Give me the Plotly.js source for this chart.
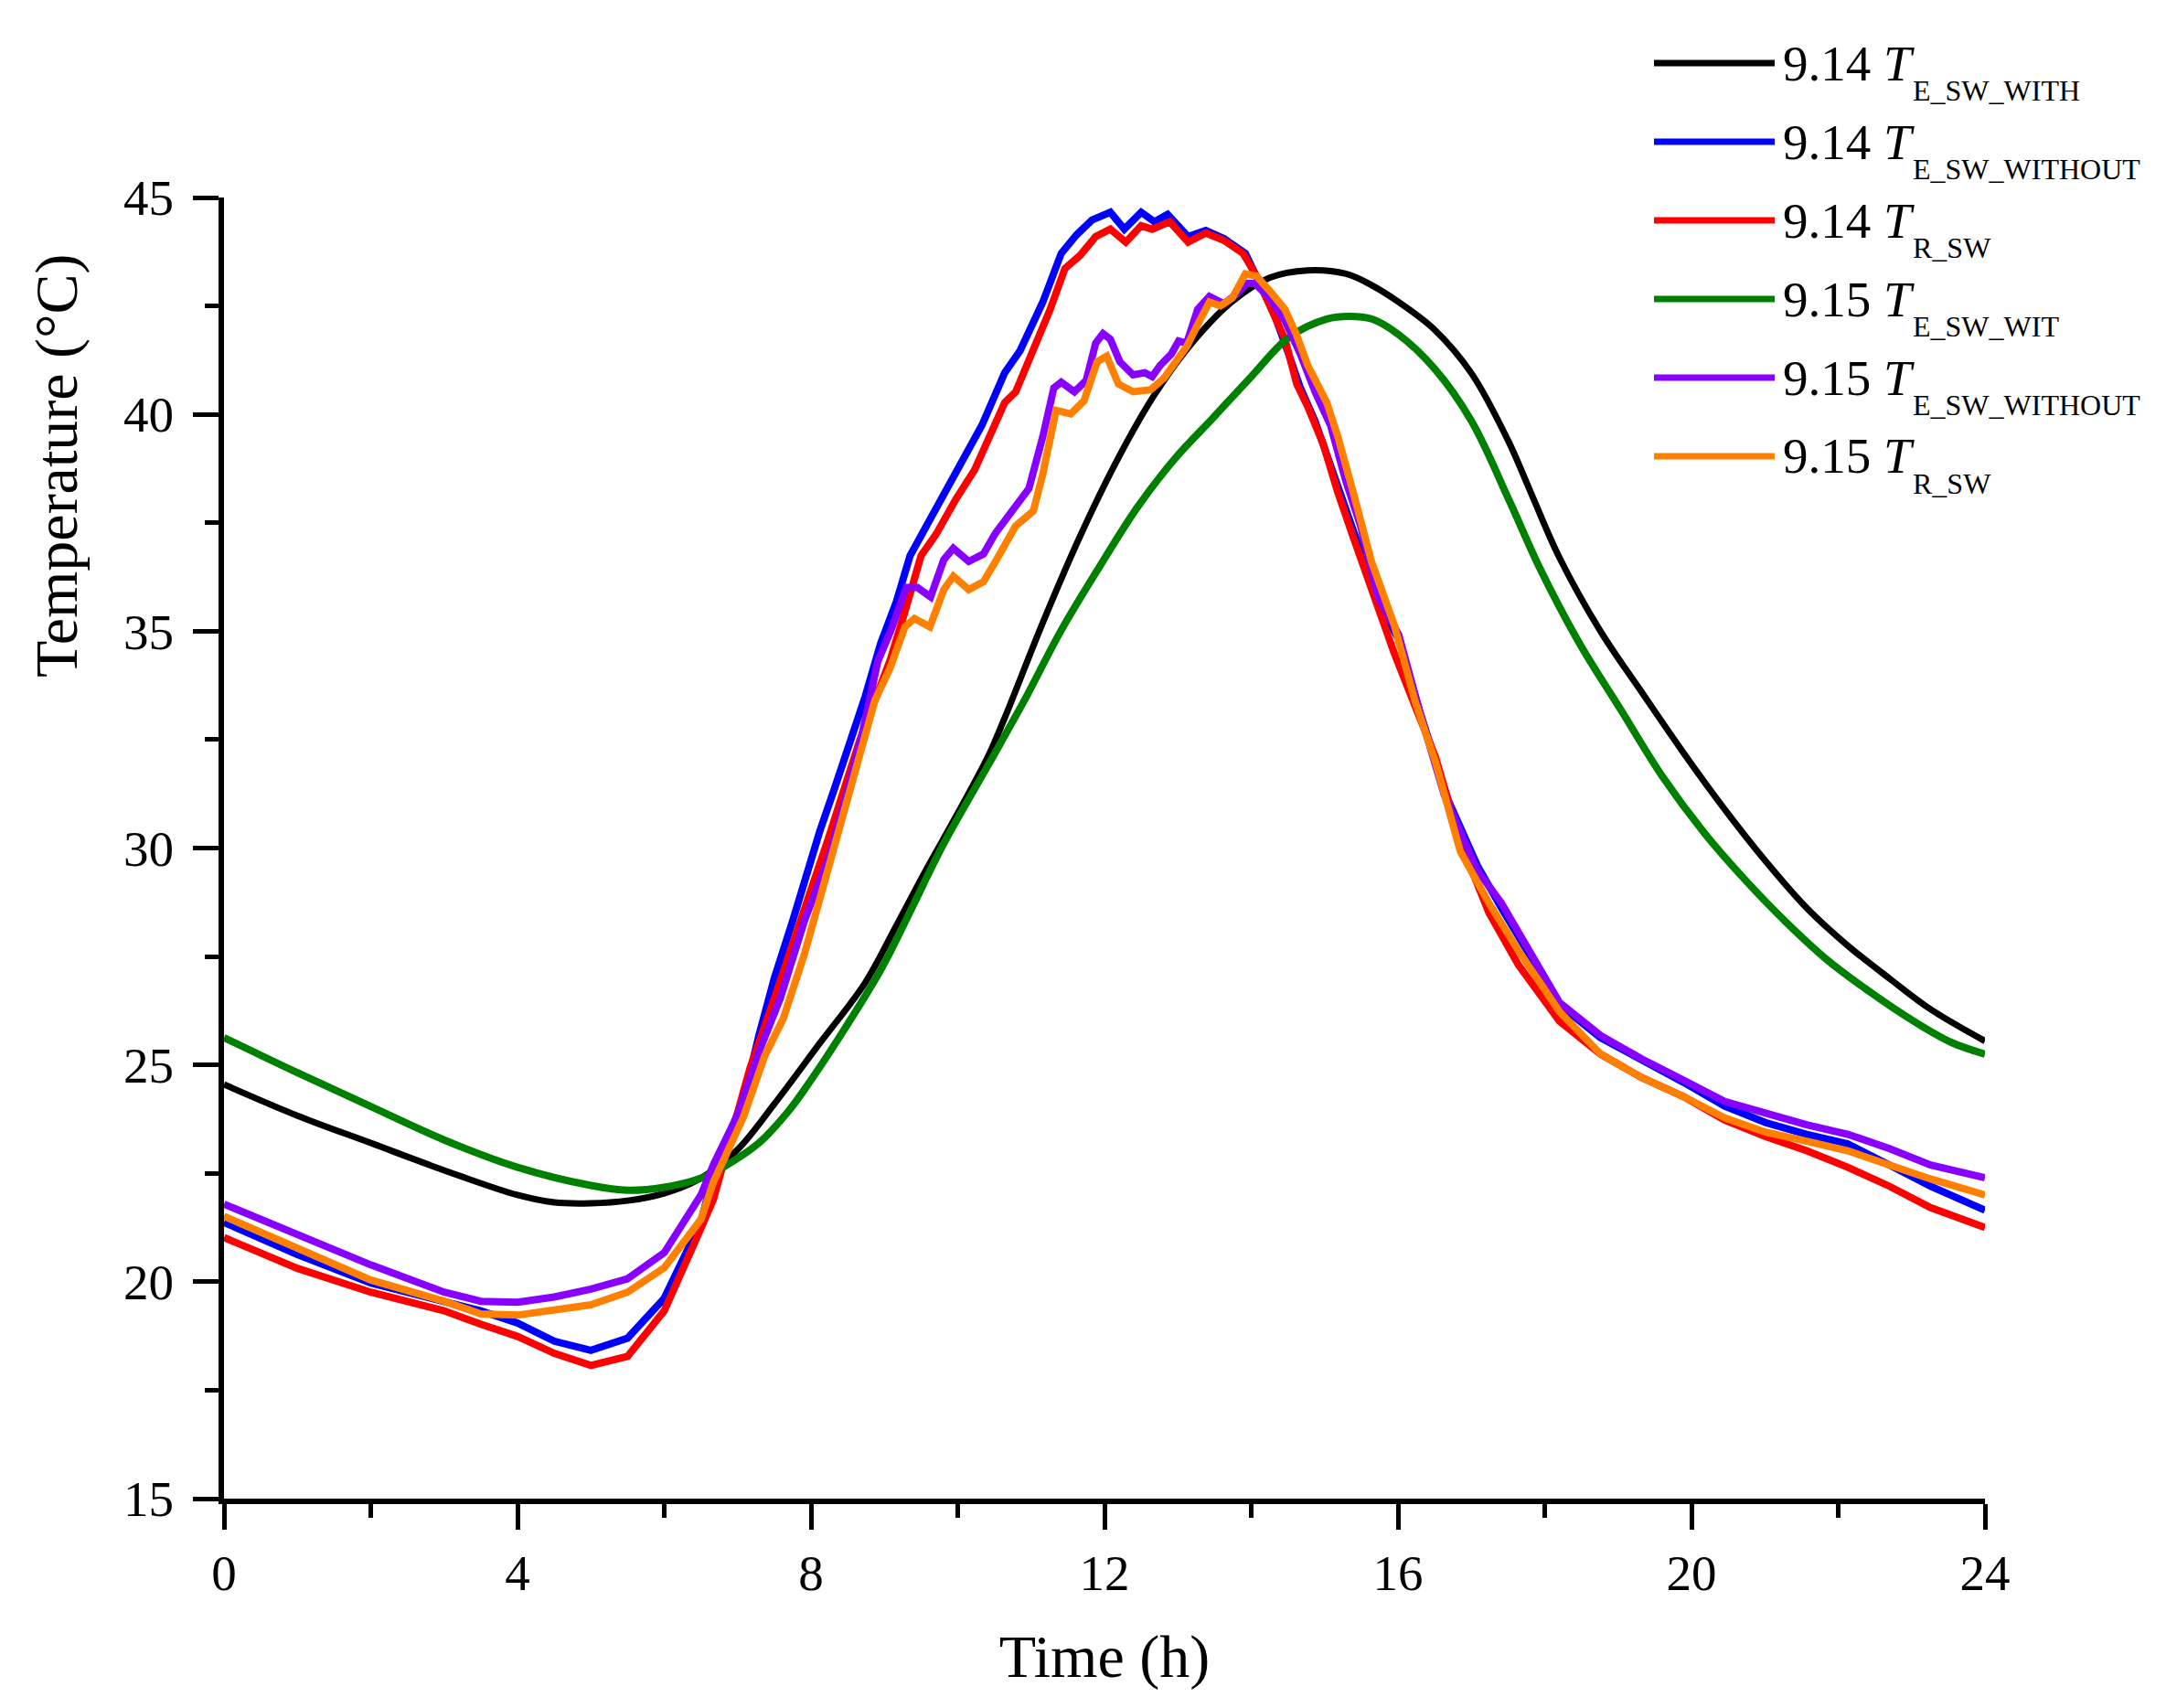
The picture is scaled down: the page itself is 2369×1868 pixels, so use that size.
<!DOCTYPE html>
<html>
<head>
<meta charset="utf-8">
<script src="https://cdn.plot.ly/plotly-3.0.1.min.js"></script>
<style>
  html, body { margin: 0; padding: 0; background: #fff; }
  #chart { width: 2369px; height: 1868px; }
</style>
</head>
<body>
<div id="chart"></div>
<script>
// Sol-air / surface temperature of the south wall over two days (9.14, 9.15).
// Hours and °C; noisy series keep their wiggles.

// 9.14 T_E_SW_WITH
const hBlack = [0, 1, 2, 3, 4, 4.5, 5, 5.5, 6, 6.5, 7, 7.5, 8.12, 8.74, 9.16, 9.57, 10.0, 10.41, 10.64, 11.16, 11.67, 12.19, 12.7, 13.22, 13.74, 14.25, 14.77, 15.29, 15.64, 16, 16.5, 17, 17.5, 17.81, 18.2, 18.76, 19.32, 19.89, 20.45, 21.01, 21.57, 22.13, 22.7, 23.26, 24];
const tBlack = [24.55, 23.83, 23.2, 22.57, 22.0, 21.83, 21.81, 21.87, 22.04, 22.39, 23.05, 24.1, 25.5, 26.9, 28.2, 29.5, 30.8, 32.1, 33.0, 35.2, 37.2, 39.0, 40.5, 41.7, 42.6, 43.15, 43.32, 43.24, 42.98, 42.6, 41.95, 40.95, 39.4, 38.2, 36.7, 35.0, 33.6, 32.2, 30.9, 29.7, 28.62, 27.75, 26.99, 26.28, 25.55];

// 9.14 T_E_SW_WITHOUT
const hBlue = [0, 1, 2, 3, 3.5, 4, 4.5, 5, 5.5, 6, 6.5, 6.67, 7.08, 7.29, 7.5, 7.75, 7.91, 8.12, 8.33, 8.54, 8.74, 8.95, 9.16, 9.35, 9.71, 10.12, 10.33, 10.64, 10.85, 11.16, 11.41, 11.62, 11.83, 12.08, 12.27, 12.5, 12.68, 12.86, 13.14, 13.38, 13.63, 13.92, 14.1, 14.31, 14.51, 14.67, 14.87, 15.08, 15.29, 15.49, 15.73, 16.01, 16.29, 16.68, 17.08, 17.41, 17.75, 18.2, 18.76, 19.32, 19.89, 20.45, 21.01, 21.57, 22.13, 22.7, 23.26, 24];
const tBlue = [21.37, 20.63, 19.97, 19.55, 19.33, 19.05, 18.63, 18.42, 18.7, 19.62, 21.37, 22.5, 24.2, 25.68, 27.0, 28.32, 29.26, 30.39, 31.42, 32.46, 33.5, 34.72, 35.66, 36.74, 37.86, 39.06, 39.75, 40.96, 41.47, 42.59, 43.71, 44.14, 44.48, 44.66, 44.27, 44.66, 44.44, 44.61, 44.1, 44.24, 44.05, 43.71, 43.1, 42.33, 41.39, 40.61, 39.84, 38.8, 37.86, 36.82, 35.68, 34.81, 33.18, 31.12, 29.6, 28.62, 27.64, 26.39, 25.63, 25.14, 24.6, 24.05, 23.67, 23.4, 23.18, 22.69, 22.2, 21.65];

// 9.14 T_R_SW
const hRed = [0, 1, 2, 3, 3.5, 4, 4.5, 5, 5.5, 6, 6.5, 6.67, 6.92, 7.17, 7.5, 7.75, 8.0, 8.25, 8.41, 8.66, 8.87, 9.08, 9.28, 9.5, 9.71, 9.97, 10.23, 10.43, 10.64, 10.79, 11.05, 11.26, 11.46, 11.67, 11.88, 12.08, 12.29, 12.5, 12.65, 12.89, 13.14, 13.38, 13.63, 13.89, 14.07, 14.25, 14.46, 14.62, 14.77, 14.98, 15.18, 15.39, 15.67, 15.95, 16.23, 16.51, 16.85, 17.24, 17.64, 18.2, 18.76, 19.32, 19.89, 20.45, 21.01, 21.57, 22.13, 22.7, 23.26, 24];
const tRed = [21.02, 20.31, 19.76, 19.33, 19.02, 18.74, 18.35, 18.07, 18.28, 19.33, 21.23, 21.9, 23.42, 24.93, 26.53, 27.75, 29.07, 30.29, 31.14, 32.46, 33.4, 34.34, 35.45, 36.74, 37.25, 38.03, 38.72, 39.49, 40.27, 40.52, 41.56, 42.42, 43.36, 43.67, 44.1, 44.27, 43.97, 44.35, 44.27, 44.44, 43.97, 44.18, 44.01, 43.71, 43.19, 42.5, 41.73, 40.7, 40.18, 39.32, 38.2, 37.17, 35.79, 34.49, 33.29, 32.1, 30.14, 28.51, 27.31, 26.01, 25.25, 24.71, 24.27, 23.73, 23.35, 23.02, 22.64, 22.2, 21.71, 21.25];

// 9.15 T_E_SW_WIT
const hGreen = [0, 1, 2, 3, 4, 5, 5.5, 6, 6.5, 6.83, 7.29, 7.7, 8, 8.33, 8.95, 9.37, 9.78, 10.41, 10.9, 11.41, 11.93, 12.45, 12.96, 13.48, 14.0, 14.51, 15.03, 15.34, 15.64, 16, 16.5, 17, 17.52, 17.92, 18.48, 19.04, 19.6, 20.17, 20.73, 21.29, 21.85, 22.41, 22.98, 23.54, 24];
const tGreen = [25.63, 24.82, 24.04, 23.27, 22.64, 22.22, 22.11, 22.18, 22.39, 22.67, 23.2, 23.95, 24.65, 25.49, 27.19, 28.6, 30.01, 31.9, 33.38, 35.02, 36.48, 37.86, 38.98, 39.92, 40.87, 41.77, 42.2, 42.26, 42.2, 41.85, 41.05, 39.85, 38.0, 36.5, 34.7, 33.18, 31.66, 30.36, 29.27, 28.29, 27.42, 26.71, 26.06, 25.52, 25.25];

// 9.15 T_E_SW_WITHOUT
const hPurple = [0, 1, 2, 3, 3.5, 4, 4.5, 5, 5.5, 6, 6.5, 6.67, 7.0, 7.29, 7.58, 7.91, 8.25, 8.5, 8.7, 8.91, 9.09, 9.3, 9.45, 9.63, 9.81, 9.94, 10.15, 10.35, 10.51, 10.74, 10.97, 11.16, 11.31, 11.41, 11.59, 11.75, 11.88, 11.98, 12.08, 12.21, 12.39, 12.55, 12.65, 12.76, 12.91, 13.01, 13.12, 13.27, 13.43, 13.63, 13.79, 13.94, 14.05, 14.25, 14.46, 14.67, 14.87, 15.08, 15.29, 15.49, 15.73, 16.01, 16.29, 16.63, 17.08, 17.41, 17.75, 18.2, 18.76, 19.32, 19.89, 20.45, 21.01, 21.57, 22.13, 22.7, 23.26, 24];
const tPurple = [21.79, 21.09, 20.39, 19.76, 19.55, 19.53, 19.65, 19.83, 20.07, 20.67, 22.0, 22.7, 23.85, 25.3, 26.53, 28.32, 29.82, 31.33, 32.65, 34.3, 35.02, 36.01, 36.01, 35.79, 36.65, 36.91, 36.61, 36.78, 37.25, 37.77, 38.29, 39.49, 40.61, 40.74, 40.52, 40.78, 41.64, 41.86, 41.73, 41.21, 40.91, 40.96, 40.87, 41.13, 41.39, 41.69, 41.64, 42.42, 42.72, 42.55, 42.76, 43.02, 43.02, 42.68, 42.16, 41.39, 40.52, 39.75, 38.46, 37.43, 35.79, 34.92, 33.18, 31.23, 29.49, 28.73, 27.75, 26.44, 25.68, 25.14, 24.65, 24.16, 23.89, 23.62, 23.4, 23.07, 22.69, 22.4];

// 9.15 T_R_SW
const hOrange = [0, 1, 2, 3, 3.5, 4, 4.5, 5, 5.5, 6, 6.5, 6.67, 7.08, 7.37, 7.62, 7.91, 8.16, 8.41, 8.62, 8.87, 9.08, 9.28, 9.41, 9.62, 9.81, 9.94, 10.15, 10.35, 10.53, 10.79, 11.03, 11.16, 11.34, 11.54, 11.72, 11.9, 12.03, 12.19, 12.39, 12.63, 12.81, 12.96, 13.12, 13.27, 13.43, 13.58, 13.74, 13.92, 14.07, 14.25, 14.46, 14.62, 14.77, 15.03, 15.18, 15.39, 15.64, 15.95, 16.23, 16.51, 16.85, 17.24, 17.64, 18.2, 18.76, 19.32, 19.89, 20.45, 21.01, 21.57, 22.13, 22.7, 23.26, 24];
const tOrange = [21.51, 20.78, 20.04, 19.55, 19.26, 19.23, 19.33, 19.47, 19.76, 20.32, 21.44, 22.3, 23.8, 25.21, 26.06, 27.56, 29.07, 30.58, 31.9, 33.4, 34.16, 35.1, 35.29, 35.1, 35.96, 36.27, 35.96, 36.14, 36.65, 37.43, 37.77, 38.63, 40.09, 40.01, 40.31, 41.21, 41.34, 40.7, 40.52, 40.57, 40.83, 41.21, 41.56, 42.07, 42.59, 42.5, 42.68, 43.24, 43.19, 42.85, 42.42, 41.82, 41.13, 40.27, 39.49, 38.2, 36.6, 35.14, 33.4, 31.99, 29.92, 28.73, 27.64, 26.23, 25.25, 24.71, 24.27, 23.78, 23.45, 23.24, 23.02, 22.69, 22.37, 22.0];

// legend text: date + subscript of T
const dates = ["9.14", "9.14", "9.14", "9.15", "9.15", "9.15"];
const subs = ["E_SW_WITH", "E_SW_WITHOUT", "R_SW", "E_SW_WIT", "E_SW_WITHOUT", "R_SW"];

const xTicks = [0, 4, 8, 12, 16, 20, 24];
const yTicks = [15, 20, 25, 30, 35, 40, 45];

// --- look ---
const FONT = "Liberation Serif, Times New Roman, serif";
const COLORS = ["#000000", "#0000FF", "#FF0000", "#008000", "#8800FF", "#FF8000"];
const W = 2369, H = 1868;
const M = { l: 245, r: 198, t: 216, b: 229 };
// pixel (from top-left of the page) -> paper coords, for the hand-made legend
const px = (x) => (x - M.l) / (W - M.l - M.r);
const py = (y) => (H - M.b - y) / (H - M.t - M.b);

const series = [
  [hBlack, tBlack],
  [hBlue, tBlue],
  [hRed, tRed],
  [hGreen, tGreen],
  [hPurple, tPurple],
  [hOrange, tOrange],
];
const smooth = [true, false, false, true, false, false];

const traces = series.map(([x, y], i) => ({
  type: "scatter",
  mode: "lines",
  x,
  y,
  name: dates[i] + " T" + subs[i],
  line: { color: COLORS[i], width: i === 0 ? 7 : 8, shape: smooth[i] ? "spline" : "linear", smoothing: 1 },
  hoverinfo: "skip",
}));

// Plotly's legend swatch is a fixed 30px stub; the original has long bars,
// so the legend is drawn with paper shapes + annotations instead.
const shapes = [];
const annotations = [];
dates.forEach((d, i) => {
  const yl = 69 + 86 * i;
  shapes.push({
    type: "line",
    xref: "paper",
    yref: "paper",
    x0: px(1809),
    x1: px(1941),
    y0: py(yl),
    y1: py(yl),
    line: { color: COLORS[i], width: 7 },
  });
  annotations.push({
    xref: "paper",
    yref: "paper",
    x: px(1948),
    y: py(yl),
    xanchor: "left",
    yanchor: "middle",
    showarrow: false,
    text: d + " <i>T</i>",
    font: { family: FONT, size: 55, color: "#000" },
  });
  annotations.push({
    xref: "paper",
    yref: "paper",
    x: px(2090),
    y: py(yl + 30),
    xanchor: "left",
    yanchor: "middle",
    showarrow: false,
    text: subs[i],
    font: { family: FONT, size: 32, color: "#000" },
  });
});

// the y title sits high on the axis in the original (not centred), so it is
// an annotation rather than yaxis.title
annotations.push({
  xref: "paper",
  yref: "paper",
  x: px(62),
  y: py(510),
  xanchor: "center",
  yanchor: "middle",
  textangle: -90,
  showarrow: false,
  text: "Temperature (°C)",
  font: { family: FONT, size: 66, color: "#000" },
});

const axisCommon = {
  showgrid: false,
  zeroline: false,
  showline: true,
  linecolor: "#000",
  linewidth: 6,
  ticks: "outside",
  ticklen: 28,
  tickwidth: 5,
  tickcolor: "#000",
  tickfont: { family: FONT, size: 55, color: "#000" },
  mirror: false,
};

const layout = {
  width: W,
  height: H,
  margin: M,
  paper_bgcolor: "#fff",
  plot_bgcolor: "#fff",
  showlegend: false,
  font: { family: FONT, color: "#000" },
  xaxis: {
    ...axisCommon,
    range: [0, 24],
    tickmode: "array",
    tickvals: xTicks,
    ticktext: xTicks.map(String),
    minor: { dtick: 2, ticks: "outside", ticklen: 15, tickwidth: 5, tickcolor: "#000" },
    title: { text: "Time (h)", font: { family: FONT, size: 66, color: "#000" }, standoff: 40 },
  },
  yaxis: {
    ...axisCommon,
    range: [15, 45],
    tickmode: "array",
    tickvals: yTicks,
    ticktext: yTicks.map(String),
    ticklabelstandoff: 10,
    minor: { dtick: 2.5, ticks: "outside", ticklen: 15, tickwidth: 5, tickcolor: "#000" },
  },
  shapes,
  annotations,
};

Plotly.newPlot("chart", traces, layout, { staticPlot: true, displayModeBar: false });
</script>
</body>
</html>
